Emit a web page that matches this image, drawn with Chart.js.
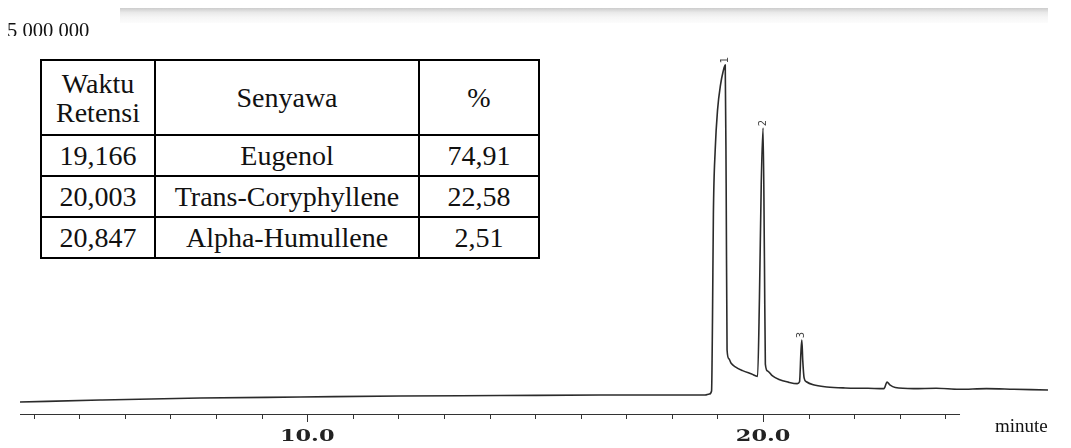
<!DOCTYPE html>
<html>
<head>
<meta charset="utf-8">
<script src="https://cdn.jsdelivr.net/npm/chart.js@4"></script>
<style>
  body { margin: 0; background: #fff; }
  #wrap { position: relative; width: 1071px; height: 448px; }
  #gc { position: absolute; left: 0; top: 0; }
  table.info {
    position: absolute; left: 40px; top: 59px;
    border-collapse: collapse; background: #fff;
    font-family: 'Liberation Serif', 'Times New Roman', serif;
    font-size: 28px; color: #111;
  }
  table.info td { border: 2px solid #000; text-align: center; padding: 0; line-height: 29px; }
  table.info tr.head td { height: 73px; }
  table.info tr.row td { height: 39px; }
</style>
</head>
<body>
<div id="wrap">
  <canvas id="gc" width="1071" height="448"></canvas>
  <table class="info" id="info">
    <tr class="head">
      <td style="width:112px">Waktu<br>Retensi</td>
      <td style="width:262px">Senyawa</td>
      <td style="width:118px">%</td>
    </tr>
  </table>
</div>
<script>
// chromatogram trace (minutes, detector counts)
const minutes = [
  3.7, 5.46, 7.65, 9.85, 12.04, 14.23, 16.43, 18.73,
  18.82, 18.87, 18.89, 18.91, 18.95, 19.00, 19.07, 19.12, 19.17,
  19.19, 19.21, 19.25, 19.30, 19.40, 19.55, 19.75, 19.88,
  19.92, 19.96, 20.00, 20.03, 20.05, 20.10, 20.20, 20.35, 20.55, 20.75,
  20.80, 20.83, 20.85, 20.87, 20.90, 20.95, 21.10, 21.40, 21.80, 22.30,
  22.65, 22.72, 22.78, 22.90, 23.30, 23.80, 24.30, 24.90, 25.50, 26.25
];
const signal = [
  156000, 182000, 208000, 221000, 234000, 240000, 247000, 247000,
  260000, 300000, 1200000, 2600000, 3440000, 3950000, 4300000, 4450000, 4544000,
  3000000, 833000, 720000, 660000, 610000, 565000, 520000, 490000,
  1500000, 3000000, 3724000, 2000000, 650000, 560000, 500000, 450000, 415000, 395000,
  420000, 800000, 964000, 700000, 470000, 420000, 380000, 352000, 339000, 335000,
  330000, 415000, 380000, 345000, 330000, 335000, 322000, 330000, 322000, 312000
];

// peak table
const retTimes = ['19,166', '20,003', '20,847'];
const compounds = ['Eugenol', 'Trans-Coryphyllene', 'Alpha-Humullene'];
const percents = ['74,91', '22,58', '2,51'];
const peakTimes = [19.166, 20.003, 20.847];
const peakLabels = ['1', '2', '3'];

// axis
const majorTicks = [10, 20];
const tickFrom = 4, tickTo = 24;
const axisEnd = 24.32;
const yTopLabel = 5000000;

const tbl = document.getElementById('info');
retTimes.forEach((t, i) => {
  const tr = document.createElement('tr');
  tr.className = 'row';
  [t, compounds[i], percents[i]].forEach(v => {
    const td = document.createElement('td');
    td.textContent = v;
    tr.appendChild(td);
  });
  tbl.appendChild(tr);
});

const decor = {
  id: 'decor',
  afterDraw(chart) {
    const ctx = chart.ctx;
    const x = chart.scales.x, y = chart.scales.y;
    const y0 = y.getPixelForValue(0);
    ctx.save();

    // faded bar on top (scan artefact)
    const g = ctx.createLinearGradient(0, 8, 0, 23);
    g.addColorStop(0, '#cccccc');
    g.addColorStop(0.3, '#e9e9e9');
    g.addColorStop(0.6, '#f5f5f5');
    g.addColorStop(1, '#fcfcfc');
    ctx.fillStyle = g;
    ctx.fillRect(120, 8, 928, 15);

    // y label, bottom cut off like the scan
    ctx.save();
    ctx.beginPath();
    ctx.rect(0, 0, 110, 36);
    ctx.clip();
    ctx.fillStyle = '#111';
    ctx.font = '20px "Liberation Serif", serif';
    ctx.textAlign = 'left';
    ctx.textBaseline = 'middle';
    ctx.translate(7, y.getPixelForValue(yTopLabel) + 2);
    ctx.scale(1.03, 1);
    ctx.fillText('5 000 000', 0, 0);
    ctx.restore();

    // x axis line and ticks
    ctx.strokeStyle = '#333';
    ctx.lineWidth = 1;
    ctx.beginPath();
    ctx.moveTo(x.left, y0 + 0.5);
    ctx.lineTo(x.getPixelForValue(axisEnd), y0 + 0.5);
    ctx.stroke();
    for (let m = tickFrom; m <= tickTo; m++) {
      const px = Math.round(x.getPixelForValue(m)) + 0.5;
      const len = majorTicks.includes(m) ? 8 : 5;
      ctx.beginPath();
      ctx.moveTo(px, y0);
      ctx.lineTo(px, y0 + len);
      ctx.stroke();
    }

    // tick labels
    ctx.fillStyle = '#222';
    ctx.font = 'bold 16px "DejaVu Serif", serif';
    ctx.textAlign = 'center';
    ctx.textBaseline = 'middle';
    majorTicks.forEach(m => {
      ctx.save();
      ctx.translate(x.getPixelForValue(m), y0 + 23);
      ctx.scale(1.4, 1);
      ctx.fillText(m.toFixed(1), 0, 0);
      ctx.restore();
    });

    ctx.fillStyle = '#111';
    ctx.font = '19px "Liberation Serif", serif';
    ctx.textAlign = 'left';
    ctx.fillText('minute', 995, y0 + 13);

    // peak numbers
    ctx.fillStyle = '#444';
    ctx.font = '10px "DejaVu Sans", sans-serif';
    ctx.textAlign = 'center';
    peakTimes.forEach((t, i) => {
      let best = 0;
      minutes.forEach((m, j) => { if (Math.abs(m - t) < 0.05) best = Math.max(best, signal[j]); });
      ctx.save();
      ctx.translate(x.getPixelForValue(t), y.getPixelForValue(best) - 5);
      ctx.rotate(-Math.PI / 2);
      ctx.fillText(peakLabels[i], 0, 0);
      ctx.restore();
    });
    ctx.restore();
  }
};

new Chart(document.getElementById('gc').getContext('2d'), {
  type: 'line',
  data: {
    datasets: [{
      data: minutes.map((m, i) => ({ x: m, y: signal[i] })),
      borderColor: '#2b2b2b',
      borderWidth: 1.6,
      pointRadius: 0,
      cubicInterpolationMode: 'monotone',
      fill: false
    }]
  },
  options: {
    responsive: false,
    animation: false,
    layout: { padding: { left: 20, right: 23, top: 30, bottom: 34 } },
    plugins: { legend: { display: false }, tooltip: { enabled: false } },
    scales: {
      x: { type: 'linear', display: false, min: 3.7, max: 26.25 },
      y: { display: false, min: 0, max: 5000000 }
    }
  },
  plugins: [decor]
});
</script>
</body>
</html>
